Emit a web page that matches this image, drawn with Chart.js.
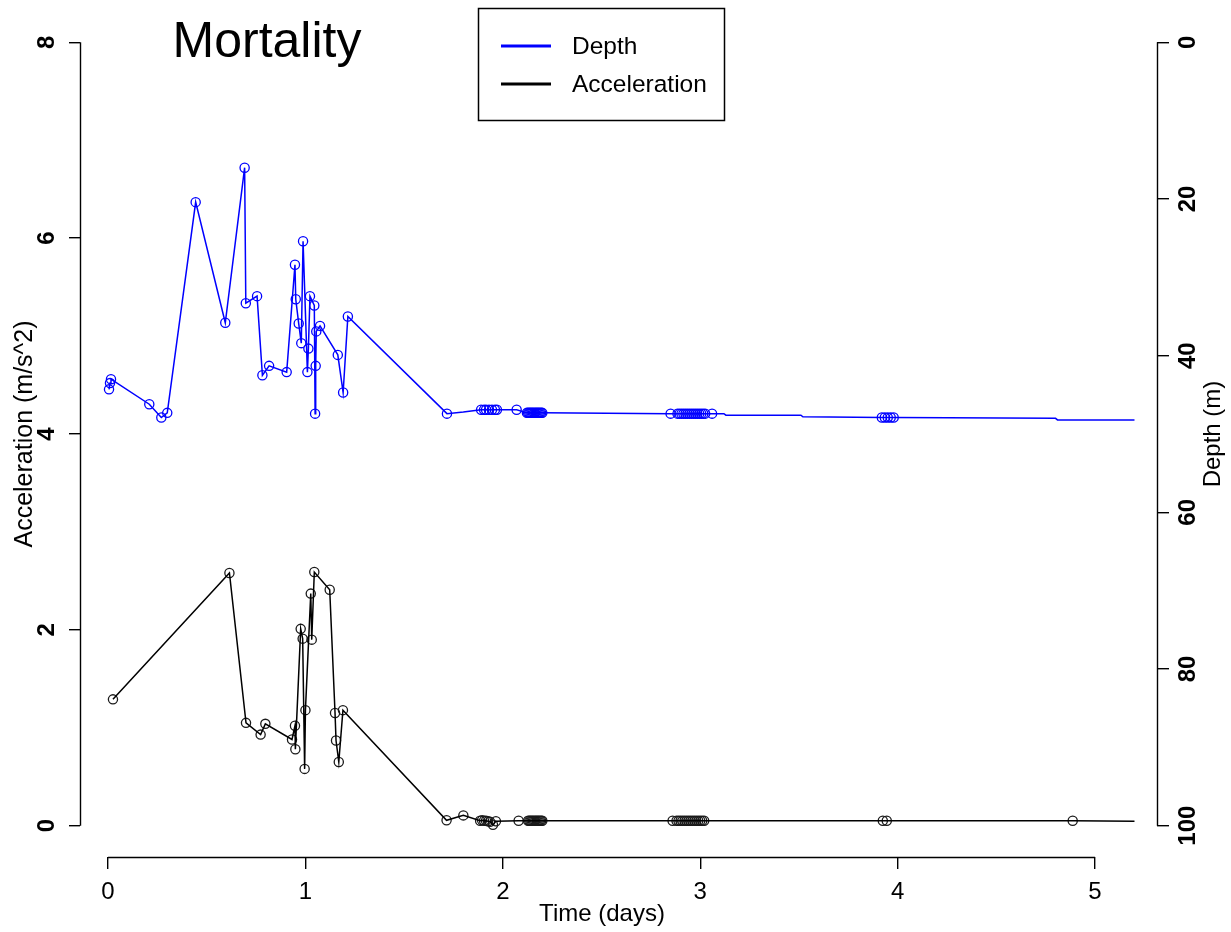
<!DOCTYPE html>
<html><head><meta charset="utf-8">
<script src="https://cdn.jsdelivr.net/npm/chart.js@4.4.1/dist/chart.umd.min.js"></script>
<style>html,body{margin:0;padding:0;background:#fff;}#wrap{width:1231px;height:932px;}</style>
</head><body><div id="wrap"><canvas id="c" width="1231" height="932"></canvas></div>
<script>
// ---- data ----
const depthTime = [0.005,0.010,0.015,0.209,0.270,0.300,0.444,0.594,0.692,0.698,0.755,0.782,0.816,0.905,0.947,0.951,0.966,0.979,0.988,1.010,1.015,1.023,1.045,1.049,1.052,1.055,1.074,1.164,1.191,1.215,1.717,1.890,1.905,1.915,1.930,1.945,1.960,1.970,2.070,2.122,2.128,2.134,2.140,2.146,2.152,2.158,2.164,2.170,2.176,2.182,2.188,2.194,2.200,2.850,2.885,2.895,2.905,2.915,2.925,2.935,2.945,2.955,2.965,2.975,2.985,2.995,3.005,3.015,3.025,3.060,3.920,3.935,3.950,3.965,3.980];
const depthValue = [44.3,43.5,43.0,46.2,47.9,47.3,20.4,35.8,16.0,33.3,32.4,42.5,41.3,42.1,28.4,32.8,35.9,38.4,25.4,42.1,39.1,32.4,33.6,47.4,41.3,36.9,36.2,39.9,44.7,35.0,47.4,46.9,46.9,46.9,46.9,46.9,46.9,46.9,46.9,47.3,47.3,47.3,47.3,47.3,47.3,47.3,47.3,47.3,47.3,47.3,47.3,47.3,47.3,47.4,47.4,47.4,47.4,47.4,47.4,47.4,47.4,47.4,47.4,47.4,47.4,47.4,47.4,47.4,47.4,47.4,47.9,47.9,47.9,47.9,47.9];
const depthTraceTime = [1.80,3.12,3.13,3.51,3.52,4.80,4.81,5.20];
const depthTraceValue = [47.2,47.4,47.6,47.6,47.8,48.0,48.2,48.2];
const accTime = [0.025,0.615,0.699,0.773,0.797,0.932,0.947,0.949,0.976,0.986,0.996,1.000,1.027,1.032,1.045,1.123,1.150,1.155,1.169,1.190,1.715,1.800,1.885,1.895,1.905,1.915,1.925,1.935,1.950,1.965,2.080,2.128,2.134,2.140,2.146,2.152,2.158,2.164,2.170,2.176,2.182,2.188,2.194,2.200,2.860,2.880,2.890,2.900,2.910,2.920,2.930,2.940,2.950,2.960,2.970,2.980,2.990,3.000,3.010,3.020,3.925,3.945,4.887];
const accValue = [1.29,2.58,1.05,0.93,1.04,0.88,1.02,0.78,2.01,1.91,0.58,1.18,2.37,1.90,2.59,2.41,1.15,0.87,0.65,1.18,0.055,0.105,0.05,0.055,0.05,0.05,0.045,0.04,0.01,0.045,0.05,0.05,0.05,0.05,0.05,0.05,0.05,0.05,0.05,0.05,0.05,0.05,0.05,0.05,0.05,0.05,0.05,0.05,0.05,0.05,0.05,0.05,0.05,0.05,0.05,0.05,0.05,0.05,0.05,0.05,0.05,0.05,0.05];
const accTraceTime = [5.20];
const accTraceValue = [0.045];
const timeTicks = [0,1,2,3,4,5];
const accTicks = [0,2,4,6,8];
const depthTicks = [0,20,40,60,80,100];
const seriesNames = ['Depth','Acceleration'];
const titleText = 'Mortality';
const xTitle = 'Time (days)';
const yTitle = 'Acceleration (m/s^2)';
const y2Title = 'Depth (m)';

// ---- build ----
function pts(t, v){ return t.map((x,i)=>({x:x, y:v[i]})); }
function merged(t1,v1,t2,v2){ return pts(t1,v1).concat(pts(t2,v2)).sort((a,b)=>a.x-b.x); }

const FONT = '"Liberation Sans", Arial, sans-serif';
const BLUE = '#0000ff';

const rAxes = {
  id:'rAxes',
  afterDraw(chart){
    const ctx = chart.ctx, ca = chart.chartArea;
    ctx.save();
    ctx.strokeStyle = '#000'; ctx.lineWidth = 1.4;
    const sx = chart.scales.x, sy = chart.scales.y, sd = chart.scales.yD;
    ctx.beginPath();
    ctx.moveTo(sx.getPixelForValue(timeTicks[0]), ca.bottom + 0.5);
    ctx.lineTo(sx.getPixelForValue(timeTicks[timeTicks.length-1]), ca.bottom + 0.5);
    ctx.moveTo(ca.left + 0.5, sy.getPixelForValue(accTicks[0]));
    ctx.lineTo(ca.left + 0.5, sy.getPixelForValue(accTicks[accTicks.length-1]));
    ctx.moveTo(ca.right + 0.5, sd.getPixelForValue(depthTicks[0]));
    ctx.lineTo(ca.right + 0.5, sd.getPixelForValue(depthTicks[depthTicks.length-1]));
    ctx.stroke();

    ctx.fillStyle = '#000';
    // title
    ctx.font = '50px ' + FONT; ctx.textAlign = 'center'; ctx.textBaseline = 'alphabetic';
    ctx.fillText(titleText, 267, 57);
    // axis titles
    ctx.font = '24px ' + FONT; ctx.textBaseline = 'middle';
    ctx.fillText(xTitle, 602, 914);
    ctx.save(); ctx.translate(25, (ca.top+ca.bottom)/2); ctx.rotate(-Math.PI/2);
    ctx.font = '25px ' + FONT; ctx.fillText(yTitle, 0, 0); ctx.restore();
    ctx.save(); ctx.translate(1213, (ca.top+ca.bottom)/2); ctx.rotate(-Math.PI/2);
    ctx.font = '24px ' + FONT; ctx.fillText(y2Title, 0, 0); ctx.restore();
    // legend
    ctx.lineWidth = 1.5; ctx.strokeStyle = '#000';
    ctx.strokeRect(478.5, 8.5, 246, 112);
    const cols = [BLUE, '#000'], ys = [46, 84];
    ctx.lineWidth = 3;
    seriesNames.forEach((n,i)=>{
      ctx.strokeStyle = cols[i];
      ctx.beginPath(); ctx.moveTo(501, ys[i]); ctx.lineTo(551, ys[i]); ctx.stroke();
      ctx.fillStyle = '#000'; ctx.textAlign = 'left'; ctx.font = '24.5px ' + FONT;
      ctx.fillText(n, 572, ys[i] + 1);
    });
    ctx.restore();
  }
};

new Chart(document.getElementById('c'), {
  type:'scatter',
  data:{ datasets:[
    {label:seriesNames[0], data:merged(depthTime,depthValue,depthTraceTime,depthTraceValue), yAxisID:'yD', showLine:true, pointRadius:0, borderColor:BLUE, borderWidth:1.5, fill:false},
    {label:seriesNames[0]+' pts', data:pts(depthTime,depthValue), yAxisID:'yD', showLine:false, pointRadius:4.6, pointBorderWidth:1.3, borderColor:BLUE, backgroundColor:'rgba(0,0,0,0)'},
    {label:seriesNames[1], data:merged(accTime,accValue,accTraceTime,accTraceValue), yAxisID:'y', showLine:true, pointRadius:0, borderColor:'#000', borderWidth:1.5, fill:false},
    {label:seriesNames[1]+' pts', data:pts(accTime,accValue), yAxisID:'y', showLine:false, pointRadius:4.6, pointBorderWidth:1.3, borderColor:'#1a1a1a', backgroundColor:'rgba(0,0,0,0)'}
  ]},
  options:{
    responsive:false, animation:false, devicePixelRatio:1,
    layout:{padding:{top:11,left:0,right:0,bottom:0}},
    plugins:{legend:{display:false}, title:{display:false}, tooltip:{enabled:false}},
    elements:{line:{tension:0}},
    scales:{
      x:{type:'linear', position:'bottom', min:-0.142, max:5.314,
        afterBuildTicks:s=>{ s.ticks = timeTicks.map(v=>({value:v})); },
        afterFit:s=>{ s.height = 75; s.paddingLeft = 0; s.paddingRight = 0; },
        grid:{drawOnChartArea:false, drawTicks:true, tickLength:12, color:'#000', lineWidth:1.4},
        border:{display:false},
        ticks:{color:'#000', font:{family:FONT, size:24}, padding:9, maxRotation:0, minRotation:0, autoSkip:false, callback:v=>String(v)}
      },
      y:{type:'linear', position:'left', min:-0.32, max:8.32,
        afterBuildTicks:s=>{ s.ticks = accTicks.map(v=>({value:v})); },
        afterFit:s=>{ s.width = 80; s.paddingTop = 0; s.paddingBottom = 0; },
        grid:{drawOnChartArea:false, drawTicks:true, tickLength:11, color:'#000', lineWidth:1.4},
        border:{display:false},
        ticks:{color:'#000', font:{family:FONT, size:24, weight:'bold'}, padding:15, minRotation:90, maxRotation:90, crossAlign:'center', autoSkip:false, callback:v=>String(v)}
      },
      yD:{type:'linear', position:'right', min:-4, max:104, reverse:true,
        afterBuildTicks:s=>{ s.ticks = depthTicks.map(v=>({value:v})); },
        afterFit:s=>{ s.width = 74; s.paddingTop = 0; s.paddingBottom = 0; },
        grid:{drawOnChartArea:false, drawTicks:true, tickLength:12, color:'#000', lineWidth:1.4},
        border:{display:false},
        ticks:{color:'#000', font:{family:FONT, size:24, weight:'bold'}, padding:-1, minRotation:90, maxRotation:90, crossAlign:'center', autoSkip:false, callback:v=>String(v)}
      }
    }
  },
  plugins:[rAxes]
});
</script></body></html>
